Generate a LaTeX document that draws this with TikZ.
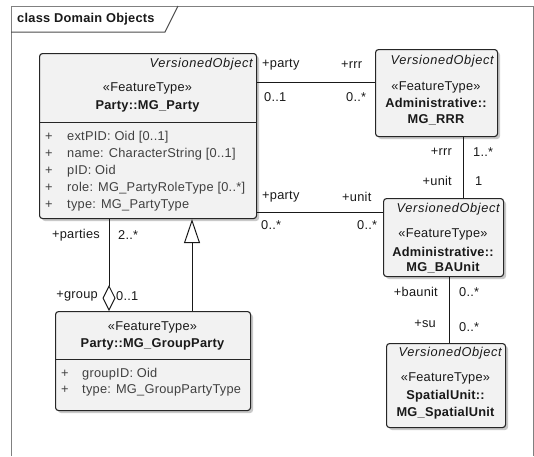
\documentclass[tikz,border=0pt]{standalone}
\usepackage{fontspec}
\setmainfont{Liberation Sans}[LetterSpace=2,
  ItalicFeatures={LetterSpace=5}, BoldFeatures={LetterSpace=2}]
\usetikzlibrary{arrows.meta,shadows,calc}

\begin{document}
\begin{tikzpicture}[x=1pt,y=-1pt,
  txt/.style={font=\fontsize{12.8}{15}\selectfont, inner sep=0pt, text=black!90},
  attr/.style={txt, text=black!75, anchor=west},
  it/.style={txt, font=\fontsize{12.8}{15}\selectfont\itshape, anchor=east},
  bf/.style={txt, font=\fontsize{12.8}{15}\selectfont\bfseries},
  umlbox/.style={draw=black!85, line width=1.1pt, rounded corners=3pt, fill=black!5,
    drop shadow={shadow xshift=2.5pt, shadow yshift=-2.5pt, fill=black!30, opacity=0.7},
    inner sep=0pt, anchor=north west},
  divider/.style={draw=black!85, line width=0.9pt},
  conn/.style={draw=black!90, line width=1pt},
  frameline/.style={draw=black!50, line width=1pt}
]
\useasboundingbox (0,0) rectangle (534,456);

% diagram frame with its name tab
\draw[frameline] (11,456) -- (11,6) -- (533,6) -- (533,456);
\draw[frameline, draw=black!70] (11,32) -- (165,32) -- (178,6);
\node[bf, anchor=west] (title) at (17,19) {class Domain Objects};

% class boxes
\node[umlbox, minimum width=217pt, minimum height=165pt] (party) at (39,53) {};
\node[umlbox, minimum width=122pt, minimum height=87pt] (rrr) at (375,49) {};
\node[umlbox, minimum width=120pt, minimum height=78pt] (baunit) at (383,198) {};
\node[umlbox, minimum width=119pt, minimum height=84pt] (spatial) at (386,343) {};
\node[umlbox, minimum width=195pt, minimum height=99pt] (group) at (55,311) {};

% Party::MG_Party
\node[it] (partyparent) at (253,64) {VersionedObject};
\node[txt] (partyst) at (147.5,88) {«FeatureType»};
\node[bf] (partyname) at (147.5,106) {Party::MG\_Party};
\draw[divider] (party.west |- 0,122) -- (party.east |- 0,122);
\foreach \y/\t [count=\i] in {137/{extPID: Oid [0..1]}, 154/{name: CharacterString [0..1]},
    171/{pID: Oid}, 188/{role: MG\_PartyRoleType [0..*]}, 205/{type: MG\_PartyType}} {
  \node[attr] (pvis\i) at (45,\y) {+};
  \node[attr] (pattr\i) at (67,\y) {\t};
}

% Administrative::MG_RRR
\node[it] (rrrparent) at (494,61) {VersionedObject};
\node[txt] (rrrst) at (436,87) {«FeatureType»};
\node[bf] (rrrname1) at (436,103) {Administrative::};
\node[bf] (rrrname2) at (436,120) {MG\_RRR};

% Administrative::MG_BAUnit
\node[it] (baparent) at (500,209) {VersionedObject};
\node[txt] (bast) at (443,234) {«FeatureType»};
\node[bf] (baname1) at (443,252) {Administrative::};
\node[bf] (baname2) at (443,268) {MG\_BAUnit};

% SpatialUnit::MG_SpatialUnit
\node[it] (suparent) at (502,353) {VersionedObject};
\node[txt] (sust) at (445.5,378) {«FeatureType»};
\node[bf] (suname1) at (445.5,396) {SpatialUnit::};
\node[bf] (suname2) at (445.5,413) {MG\_SpatialUnit};

% Party::MG_GroupParty
\node[txt] (grst) at (152.5,327) {«FeatureType»};
\node[bf] (grname) at (152.5,344) {Party::MG\_GroupParty};
\draw[divider] (group.west |- 0,359) -- (group.east |- 0,359);
\node[attr] (gvis1) at (61,374) {+};
\node[attr] (gattr1) at (82,374) {groupID: Oid};
\node[attr] (gvis2) at (61,390) {+};
\node[attr] (gattr2) at (82,390) {type: MG\_GroupPartyType};

% associations
\draw[conn] (party.east |- 0,82) -- (rrr.west |- 0,82);
\node[txt, anchor=west] (a1) at (262,65) {+party};
\node[txt, anchor=west] (a2) at (341,65) {+rrr};
\node[txt, anchor=west] (a3) at (264,97) {0..1};
\node[txt, anchor=west] (a4) at (346,97) {0..*};

\draw[conn] (rrr.south -| 463,0) -- (baunit.north -| 463,0);
\node[txt, anchor=east] (b1) at (452,152) {+rrr};
\node[txt, anchor=west] (b2) at (473,152) {1..*};
\node[txt, anchor=east] (b3) at (452,181) {+unit};
\node[txt, anchor=west] (b4) at (475,181) {1};

\draw[conn] (party.east |- 0,212) -- (baunit.west |- 0,212);
\node[txt, anchor=west] (c1) at (262,197) {+party};
\node[txt, anchor=west] (c2) at (342,197) {+unit};
\node[txt, anchor=west] (c3) at (261,225) {0..*};
\node[txt, anchor=west] (c4) at (357,225) {0..*};

\draw[conn] (baunit.south -| 449,0) -- (spatial.north -| 449,0);
\node[txt, anchor=east] (d1) at (438,292) {+baunit};
\node[txt, anchor=west] (d2) at (459,292) {0..*};
\node[txt, anchor=east] (d3) at (436,324) {+su};
\node[txt, anchor=west] (d4) at (459,327) {0..*};

% aggregation: group of parties
\draw[conn, -{Diamond[open, fill=white, length=26pt, width=13pt, line width=1pt]}]
  (party.south -| 109,0) -- (group.north -| 109,0);
\node[txt, anchor=east] (e1) at (100,235) {+parties};
\node[txt, anchor=west] (e2) at (118,235) {2..*};
\node[txt, anchor=east] (e3) at (98,296) {+group};
\node[txt, anchor=west] (e4) at (116,296) {0..1};

% generalization: group party is a party
\draw[conn, -{Triangle[open, fill=white, length=24pt, width=16pt, line width=1pt]}]
  (group.north -| 192,0) -- (party.south -| 192,0);
\end{tikzpicture}
\end{document}
